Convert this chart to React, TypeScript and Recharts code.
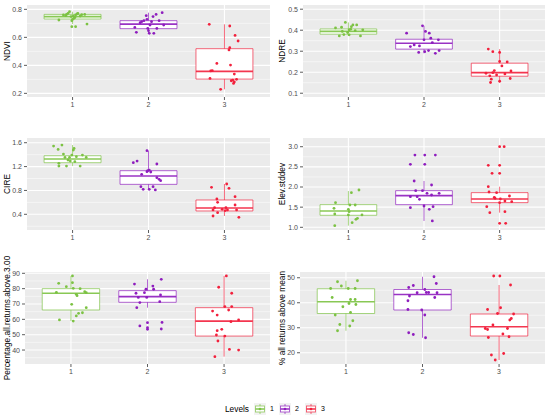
import React from 'react';
import {
  ComposedChart,
  Scatter,
  XAxis,
  YAxis,
  CartesianGrid,
  ReferenceArea,
  ReferenceLine,
} from 'recharts';

// ---------- categories ----------
const levels = ['1', '2', '3'];
const levelX = [1, 2, 3];
const levelColors = ['#7CC243', '#8E1DBE', '#F2203C'];

// ---------- NDVI ----------
const ndviPts1 = [[-0.18,0.724],[-0.12,0.76],[-0.08,0.764],[-0.06,0.771],[-0.04,0.783],[-0.02,0.748],[-0.01,0.719],[0,0.729],[0.01,0.752],[0.02,0.736],[0.03,0.743],[0.04,0.76],[0.06,0.767],[0.07,0.771],[0.1,0.752],[0.12,0.762],[0.16,0.764],[0.19,0.695],[-0.01,0.676],[0.04,0.676],[-0.09,0.755]];
const ndviPts2 = [[-0.16,0.636],[-0.18,0.671],[-0.11,0.705],[-0.09,0.712],[-0.03,0.755],[-0.02,0.729],[0,0.648],[0.01,0.629],[0.02,0.688],[0.04,0.712],[0.06,0.748],[0.07,0.629],[0.1,0.764],[0.11,0.664],[0.14,0.719],[0.18,0.776],[0.2,0.688],[-0.01,0.664],[-0.06,0.719]];
const ndviPts3 = [[-0.2,0.693],[0.07,0.681],[0.14,0.614],[0.18,0.574],[0.07,0.526],[0.06,0.51],[-0.1,0.414],[0.08,0.402],[-0.18,0.36],[-0.16,0.362],[0.13,0.338],[-0.19,0.307],[0.11,0.295],[0.13,0.281],[0.16,0.3],[0.09,0.29],[-0.05,0.229],[0.12,0.271]];
const ndviStats = [
  { lo: 0.695, q1: 0.731, med: 0.748, q3: 0.764, hi: 0.783 },
  { lo: 0.629, q1: 0.662, med: 0.695, q3: 0.719, hi: 0.776 },
  { lo: 0.229, q1: 0.302, med: 0.357, q3: 0.519, hi: 0.693 },
];
const ndviTicks = [0.2, 0.4, 0.6, 0.8];
const ndviMinor = [0.3, 0.5, 0.7];

// ---------- NDRE ----------
const ndrePts1 = [[-0.17,0.411],[-0.12,0.373],[-0.09,0.414],[-0.06,0.379],[-0.04,0.437],[-0.01,0.389],[0.01,0.378],[0.03,0.405],[0.04,0.417],[0.06,0.425],[0.09,0.398],[0.11,0.425],[0.16,0.373],[0.19,0.402],[-0.08,0.394],[0.01,0.402]];
const ndrePts2 = [[-0.23,0.386],[-0.18,0.322],[-0.13,0.33],[-0.07,0.294],[-0.06,0.325],[-0.02,0.421],[0,0.354],[0.02,0.394],[0.06,0.303],[0.07,0.386],[0.09,0.362],[0.11,0.341],[0.15,0.29],[0.19,0.354],[0.2,0.303],[0.01,0.298]];
const ndrePts3 = [[-0.15,0.31],[-0.09,0.298],[0,0.294],[0,0.251],[0.03,0.23],[0.1,0.249],[0.15,0.206],[-0.18,0.195],[-0.13,0.183],[-0.11,0.167],[-0.12,0.151],[-0.07,0.208],[-0.04,0.187],[0,0.157],[0.14,0.17],[0.07,0.192],[-0.09,0.198]];
const ndreStats = [
  { lo: 0.373, q1: 0.381, med: 0.394, q3: 0.406, hi: 0.437 },
  { lo: 0.29, q1: 0.31, med: 0.338, q3: 0.357, hi: 0.421 },
  { lo: 0.151, q1: 0.181, med: 0.198, q3: 0.243, hi: 0.31 },
];
const ndreTicks = [0.1, 0.2, 0.3, 0.4, 0.5];
const ndreMinor = [0.15, 0.25, 0.35, 0.45];

// ---------- CIRE ----------
const cirePts1 = [[-0.25,1.544],[-0.19,1.488],[-0.14,1.561],[-0.12,1.41],[-0.1,1.354],[-0.18,1.254],[-0.18,1.209],[-0.08,1.209],[-0.06,1.31],[-0.04,1.354],[-0.01,1.393],[0.01,1.477],[0.03,1.282],[0.05,1.366],[0.1,1.209],[0.13,1.393],[0.18,1.354],[-0.03,1.293],[0.02,1.505]];
const cirePts2 = [[-0.2,1.265],[-0.15,1.293],[-0.02,1.466],[0.11,1.243],[-0.09,1.07],[-0.02,1.115],[0.01,1.142],[0.03,1.109],[0.11,1.014],[0.14,0.986],[0.16,0.964],[-0.1,0.863],[-0.07,0.819],[0.01,0.819],[0.06,0.863],[0.09,0.808],[-0.01,1.131]];
const cirePts3 = [[-0.17,0.852],[0.03,0.908],[0.06,0.835],[0.14,0.696],[-0.1,0.657],[-0.09,0.601],[0.14,0.556],[-0.15,0.473],[-0.13,0.512],[-0.09,0.428],[0.02,0.512],[0.04,0.473],[-0.15,0.372],[0.19,0.35],[0.01,0.462],[0.16,0.473],[-0.03,0.484]];
const cireStats = [
  { lo: 1.209, q1: 1.265, med: 1.327, q3: 1.382, hi: 1.561 },
  { lo: 0.808, q1: 0.902, med: 1.042, q3: 1.131, hi: 1.466 },
  { lo: 0.372, q1: 0.456, med: 0.506, q3: 0.64, hi: 0.908 },
];
const cireTicks = [0.4, 0.8, 1.2, 1.6];
const cireMinor = [0.2, 0.6, 1.0, 1.4];

// ---------- Elev.stddev ----------
const elevPts1 = [[-0.18,1.041],[-0.19,1.471],[-0.17,1.612],[-0.18,1.331],[0,1.446],[0,1.306],[0.02,1.554],[0.04,1.86],[0.05,1.116],[0.09,1.554],[0.1,1.198],[0.12,1.223],[0.14,1.926],[0.18,1.306],[0.01,1.388]];
const elevPts2 = [[-0.18,2.562],[-0.12,2.793],[0.01,2.793],[0.15,2.793],[0.01,2.562],[-0.13,2.149],[0.1,2.05],[-0.11,1.909],[-0.02,1.909],[0.04,1.843],[0.1,1.802],[0.2,1.843],[-0.18,1.76],[-0.09,1.76],[-0.06,1.694],[0,1.529],[-0.18,1.488],[0.07,1.446],[0.12,1.512],[0.11,1.157]];
const elevPts3 = [[0,3.0],[0.06,3.0],[-0.15,2.537],[-0.1,2.339],[0,2.537],[0,2.339],[-0.15,2.008],[-0.14,1.876],[-0.04,1.86],[-0.07,1.744],[-0.06,1.719],[0.01,1.702],[0.07,1.653],[0.13,1.777],[0.16,1.636],[0,1.612],[-0.17,1.512],[-0.13,1.364],[0.07,1.388],[0,1.099],[0.08,1.099]];
const elevStats = [
  { lo: 1.041, q1: 1.298, med: 1.405, q3: 1.562, hi: 1.9 },
  { lo: 1.157, q1: 1.562, med: 1.785, q3: 1.909, hi: 2.149 },
  { lo: 1.364, q1: 1.612, med: 1.702, q3: 1.86, hi: 2.008 },
];
const elevTicks = [1.0, 1.5, 2.0, 2.5, 3.0];
const elevMinor = [1.25, 1.75, 2.25, 2.75];

// ---------- Percentage.all.returns.above.3.00 ----------
const pctPts1 = [[-0.16,83.5],[-0.19,77.6],[-0.15,59.6],[-0.06,81.3],[0.02,88.3],[0.02,83.9],[0.03,80.2],[0.01,69.8],[0.07,76.3],[0.08,75.4],[0.12,80.0],[0.18,78.0],[0.2,77.4],[0.07,62.2],[0.1,63.9],[0.15,64.3],[0.2,67.6],[0.03,58.9]];
const pctPts2 = [[-0.17,83.0],[-0.15,77.0],[-0.14,67.6],[-0.1,70.9],[-0.12,74.3],[-0.02,79.6],[-0.04,77.4],[-0.01,74.3],[0.07,81.7],[0.08,79.6],[0.17,75.9],[0.18,86.1],[0.16,71.5],[-0.1,55.7],[0,57.8],[0,54.6],[0,53.5],[0.19,58.0],[0.18,53.7]];
const pctPts3 = [[0.03,88.3],[-0.07,80.9],[0.1,77.0],[0.01,68.3],[0.1,68.3],[0.06,66.1],[-0.15,65.4],[-0.09,62.8],[0.19,59.6],[0.09,58.5],[-0.03,53.5],[-0.09,52.6],[-0.1,49.8],[0.01,49.1],[-0.08,45.9],[0.07,40.4],[0.19,40.0],[-0.12,35.7]];
const pctStats = [
  { lo: 58.9, q1: 66.1, med: 77.0, q3: 80.0, hi: 88.3 },
  { lo: 67.6, q1: 71.1, med: 74.8, q3: 78.7, hi: 86.1 },
  { lo: 35.7, q1: 49.1, med: 58.9, q3: 67.6, hi: 88.3 },
];
const pctTicks = [40, 50, 60, 70, 80, 90];
const pctMinor = [35, 45, 55, 65, 75, 85];

// ---------- % all returns above mean ----------
const meanPts1 = [[-0.11,48.4],[0.15,48.8],[-0.2,45.7],[-0.06,46.7],[0.03,45.7],[0.12,45.7],[-0.18,42.1],[0.06,41.3],[0.12,41.3],[0.04,39.7],[0.13,39.3],[-0.04,38.4],[0.06,36.1],[-0.14,35.1],[0.09,32.8],[-0.08,31.3],[0.05,30.7],[-0.11,28.8]];
const meanPts2 = [[0.15,50.4],[0.18,47.7],[-0.18,46.1],[-0.12,46.9],[-0.17,42.7],[-0.07,44.0],[0.03,45.3],[0.05,44.1],[0.08,44.1],[0.19,44.0],[0.16,42.1],[-0.19,40.8],[-0.19,37.3],[-0.01,37.1],[0.03,35.1],[-0.18,28.0],[-0.12,27.3],[0.04,26.0]];
const meanPts3 = [[-0.07,50.7],[0.01,50.7],[0.15,47.1],[0.02,38.0],[-0.15,37.3],[-0.02,35.7],[0.19,35.5],[0.16,33.7],[0.14,33.1],[-0.08,31.1],[-0.18,29.7],[-0.15,29.3],[0.11,29.7],[-0.14,26.1],[0.05,27.5],[0.13,26.4],[-0.1,19.1],[0.06,19.7],[-0.05,17.1]];
const meanStats = [
  { lo: 28.8, q1: 35.7, med: 40.4, q3: 45.6, hi: 48.8 },
  { lo: 26.0, q1: 37.1, med: 43.3, q3: 45.3, hi: 50.4 },
  { lo: 17.1, q1: 26.7, med: 30.4, q3: 35.5, hi: 47.1 },
];
const meanTicks = [20, 30, 40, 50];
const meanMinor = [25, 35, 45];

// ---------- panel setup ----------
const panels = [
  { title: 'NDVI', pts: [ndviPts1, ndviPts2, ndviPts3], stats: ndviStats, ticks: ndviTicks, minor: ndviMinor, domain: [0.174, 0.831], digits: 1, left: 0, top: 5, yw: 27, plotH: 92 },
  { title: 'NDRE', pts: [ndrePts1, ndrePts2, ndrePts3], stats: ndreStats, ticks: ndreTicks, minor: ndreMinor, domain: [0.082, 0.52], digits: 1, left: 275, top: 5, yw: 28, plotH: 92 },
  { title: 'CIRE', pts: [cirePts1, cirePts2, cirePts3], stats: cireStats, ticks: cireTicks, minor: cireMinor, domain: [0.137, 1.679], digits: 1, left: 0, top: 138, yw: 27, plotH: 92 },
  { title: 'Elev.stddev', pts: [elevPts1, elevPts2, elevPts3], stats: elevStats, ticks: elevTicks, minor: elevMinor, domain: [0.933, 3.216], digits: 1, left: 275, top: 138, yw: 28, plotH: 92 },
  { title: 'Percentage.all.returns.above.3.00', pts: [pctPts1, pctPts2, pctPts3], stats: pctStats, ticks: pctTicks, minor: pctMinor, domain: [30.9, 90.85], digits: 0, left: 0, top: 272, yw: 25, plotH: 92 },
  { title: '% all returns above mean', pts: [meanPts1, meanPts2, meanPts3], stats: meanStats, ticks: meanTicks, minor: meanMinor, domain: [15.5, 52.3], digits: 0, left: 275, top: 272, yw: 25, plotH: 92 },
];

const FONT = '"Liberation Sans", Arial, Helvetica, sans-serif';
const HALF_BOX = 0.375;

const YTitle = (props: any) => {
  const vb = props.viewBox || { x: 0, y: 0, width: 0, height: 0 };
  const x = vb.x + 7;
  const y = vb.y + vb.height / 2;
  return (
    <text
      x={x}
      y={y}
      dy="0.35em"
      transform={`rotate(-90 ${x} ${y})`}
      textAnchor="middle"
      fontSize={8.3}
      fill="#000"
      fontFamily={FONT}
    >
      {props.text}
    </text>
  );
};

function PanelChart({ p }: { p: any }) {
  const W = 270;
  const mt = 24;
  const mb = 10;
  const xh = 14;
  const H = mt + p.plotH + xh + mb;
  return (
    <div style={{ position: 'absolute', left: p.left, top: p.top - mt, width: W, height: H }}>
      <ComposedChart width={W} height={H} margin={{ top: mt, right: 0, bottom: mb, left: 0 }}>
        <CartesianGrid
          fill="#EBEBEB"
          fillOpacity={1}
          stroke="#FFFFFF"
          strokeWidth={0.5}
          vertical={false}
          horizontalValues={p.minor}
        />
        <CartesianGrid
          stroke="#FFFFFF"
          strokeWidth={1.1}
          horizontalValues={p.ticks}
          verticalValues={levelX}
        />
        <XAxis
          type="number"
          dataKey="x"
          domain={[0.4, 3.6]}
          ticks={levelX}
          interval={0}
          allowDataOverflow
          tickFormatter={(v: number) => levels[Math.round(v) - 1]}
          axisLine={false}
          tickSize={3}
          tickMargin={2}
          tickLine={{ stroke: '#333333', strokeWidth: 0.8 }}
          tick={{ fontSize: 7, fill: '#4D4D4D', fontFamily: FONT }}
          height={xh}
        />
        <YAxis
          type="number"
          dataKey="y"
          domain={p.domain}
          ticks={p.ticks}
          interval={0}
          allowDataOverflow
          tickFormatter={(v: number) => v.toFixed(p.digits)}
          axisLine={false}
          tickSize={3}
          tickMargin={2}
          tickLine={{ stroke: '#333333', strokeWidth: 0.8 }}
          tick={{ fontSize: 7, fill: '#4D4D4D', fontFamily: FONT }}
          width={p.yw}
          label={<YTitle text={p.title} />}
        />
        {p.stats.map((s: any, i: number) => {
          const c = levelColors[i];
          const x = levelX[i];
          return [
            <ReferenceLine
              key={`wu${i}`}
              segment={[{ x, y: s.q3 }, { x, y: s.hi }]}
              stroke={c}
              strokeOpacity={0.75}
              strokeWidth={0.9}
              ifOverflow="visible"
            />,
            <ReferenceLine
              key={`wl${i}`}
              segment={[{ x, y: s.lo }, { x, y: s.q1 }]}
              stroke={c}
              strokeOpacity={0.75}
              strokeWidth={0.9}
              ifOverflow="visible"
            />,
            <ReferenceArea
              key={`b${i}`}
              x1={x - HALF_BOX}
              x2={x + HALF_BOX}
              y1={s.q1}
              y2={s.q3}
              fill="#FFFFFF"
              fillOpacity={1}
              stroke={c}
              strokeOpacity={0.75}
              strokeWidth={0.9}
              ifOverflow="visible"
            />,
            <ReferenceLine
              key={`m${i}`}
              segment={[{ x: x - HALF_BOX, y: s.med }, { x: x + HALF_BOX, y: s.med }]}
              stroke={c}
              strokeOpacity={0.9}
              strokeWidth={1.7}
              ifOverflow="visible"
            />,
          ];
        })}
        {p.pts.map((g: number[][], i: number) => (
          <Scatter
            key={`s${i}`}
            name={levels[i]}
            data={g.map(([dx, y]) => ({ x: levelX[i] + dx, y }))}
            fill={levelColors[i]}
            isAnimationActive={false}
            shape={(sp: any) => <circle cx={sp.cx} cy={sp.cy} r={1.4} fill={levelColors[i]} />}
          />
        ))}
      </ComposedChart>
    </div>
  );
}

function LevelsLegend() {
  const keyX = [254, 279, 305];
  const y0 = 403;
  const size = 12;
  return (
    <svg
      width={550}
      height={30}
      style={{ position: 'absolute', left: 0, top: 0, overflow: 'visible' }}
    >
      <text x={225} y={y0 + size / 2} dy="0.35em" fontSize={8.3} fill="#000" fontFamily={FONT}>
        Levels
      </text>
      {levels.map((lv, i) => {
        const x = keyX[i];
        const c = levelColors[i];
        const cx = x + size / 2;
        return (
          <g key={lv}>
            <rect x={x} y={y0} width={size} height={size} fill="#F2F2F2" />
            <line x1={cx} x2={cx} y1={y0 + 1} y2={y0 + size - 1} stroke={c} strokeOpacity={0.75} strokeWidth={0.9} />
            <rect x={x + 1.5} y={y0 + 3} width={size - 3} height={size - 6} fill="#FFFFFF" stroke={c} strokeOpacity={0.75} strokeWidth={0.9} />
            <line x1={x + 1.5} x2={x + size - 1.5} y1={y0 + size / 2} y2={y0 + size / 2} stroke={c} strokeWidth={1.4} />
            <circle cx={cx} cy={y0 + size / 2} r={1.3} fill={c} />
            <text x={x + size + 4} y={y0 + size / 2} dy="0.35em" fontSize={7} fill="#000" fontFamily={FONT}>
              {lv}
            </text>
          </g>
        );
      })}
    </svg>
  );
}

export default function App() {
  return (
    <div style={{ position: 'absolute', left: 0, top: 0, width: 550, height: 420, background: '#FFFFFF', overflow: 'hidden', fontFamily: FONT }}>
      {panels.map((p) => (
        <PanelChart key={p.title} p={p} />
      ))}
      <div style={{ position: 'absolute', left: 0, top: 0 }}>
        <LevelsLegend />
      </div>
    </div>
  );
}
